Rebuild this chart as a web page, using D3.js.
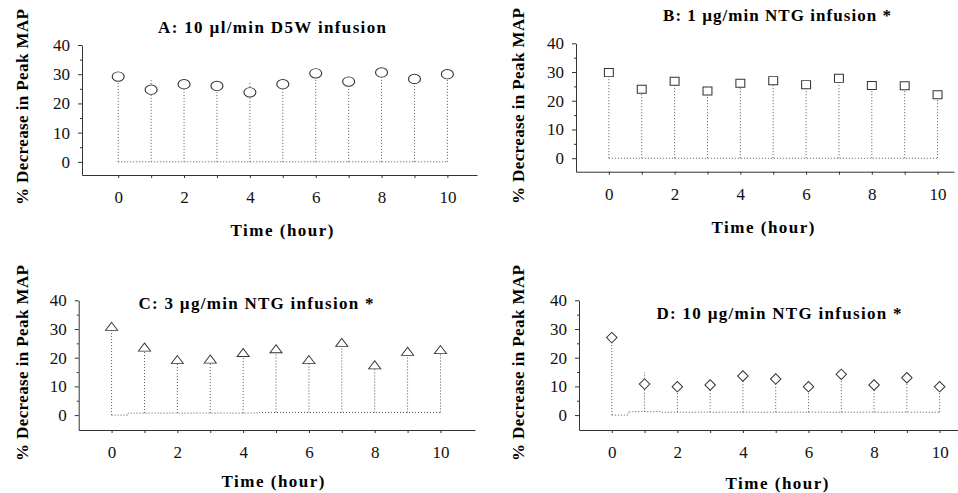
<!DOCTYPE html>
<html>
<head>
<meta charset="utf-8">
<script src="https://cdn.jsdelivr.net/npm/d3@7"></script>
<style>
  body { margin: 0; background: #fff; }
  svg { display: block; }
  .dot { fill: none; stroke: #555; stroke-width: 1; stroke-dasharray: 1,2; }
  .mark { fill: #fff; stroke: #333; stroke-width: 1; }
</style>
</head>
<body>
<div id="chart"></div>
<script>
// hours 0..10, values (% decrease in peak MAP)
const hours = d3.range(0, 11);
const yTicks = [0, 10, 20, 30, 40];
const yMinorTicks = [5, 15, 25, 35];

const valuesA = [29.2, 24.7, 26.6, 26.0, 23.8, 26.6, 30.3, 27.5, 30.6, 28.4, 30.0];
const valuesB = [29.8, 24.0, 26.8, 23.4, 26.1, 27.0, 25.6, 27.8, 25.3, 25.2, 22.1];
const valuesC = [30.8, 23.6, 19.2, 19.4, 21.7, 23.0, 19.2, 25.2, 17.4, 22.1, 22.7];
const valuesD = [27.0, 10.8, 9.9, 10.5, 13.6, 12.6, 9.9, 14.2, 10.5, 13.0, 9.9];

// top of the dotted drop lines (some run above the marker)
const stemTopA = [29.2, 28.0, 26.6, 27.5, 27.5, 26.6, 30.3, 27.5, 30.6, 28.4, 30.0];
const stemTopB = valuesB;
const stemTopC = valuesC;
const stemTopD = [27.0, 15.0, 9.9, 10.5, 13.6, 12.6, 9.9, 14.2, 10.5, 13.0, 9.9];

// level of the dotted base line under each point
const floorA = [0, 0, 0, 0, 0, 0, 0, 0, 0, 0, 0];
const floorB = [0, 0, 0, 0, 0, 0, 0, 0, 0, 0, 0];
const floorC = [0, 0.7, 0.7, 0.7, 0.7, 0.9, 0.9, 0.9, 0.9, 0.9, 0.9];
const floorD = [0, 1.2, 1.0, 1.0, 1.0, 1.0, 1.0, 1.0, 1.0, 1.0, 1.0];

const titles = [
    "A: 10 \u00b5l/min D5W infusion",
    "B: 1 \u00b5g/min NTG infusion *",
    "C: 3 \u00b5g/min NTG infusion *",
    "D: 10 \u00b5g/min NTG infusion *"
];
const xLabel = "Time (hour)";
const yLabel = "% Decrease in Peak MAP";

const W = 958, H = 493;
const FONT = "'Liberation Serif', 'Times New Roman', serif";

const svg = d3.select("#chart")
    .append("svg")
    .attr("width", W)
    .attr("height", H);

const panels = [
    {
        values: valuesA, stemTop: stemTopA, floor: floorA, title: titles[0], symbol: "circle",
        left: 82, right: 477, top: 45, bottom: 175, xDomain: [-1.1, 10.9], yDomain: [-4.5, 40],
        titleX: 272, titleY: 27, titleLen: 228,
        xlabX: 282, xlabY: 230, ylabX: 22, ylabY: 107
    },
    {
        values: valuesB, stemTop: stemTopB, floor: floorB, title: titles[1], symbol: "square",
        left: 576, right: 954, top: 43.3, bottom: 171.7, xDomain: [-1, 10.5], yDomain: [-4.7, 40],
        titleX: 777, titleY: 15, titleLen: 228,
        xlabX: 763, xlabY: 227, ylabX: 518, ylabY: 106
    },
    {
        values: valuesC, stemTop: stemTopC, floor: floorC, title: titles[2], symbol: "triangle",
        left: 78.7, right: 475, top: 300.3, bottom: 430, xDomain: [-1, 11.05], yDomain: [-5.2, 40],
        titleX: 256, titleY: 303, titleLen: 235,
        xlabX: 273, xlabY: 481, ylabX: 22, ylabY: 363
    },
    {
        values: valuesD, stemTop: stemTopD, floor: floorD, title: titles[3], symbol: "diamond",
        left: 579, right: 958, top: 300.3, bottom: 430, xDomain: [-1, 10.56], yDomain: [-5.2, 40],
        titleX: 779, titleY: 313, titleLen: 245,
        xlabX: 777, xlabY: 483, ylabX: 518, ylabY: 363
    }
];

function markPath(kind) {
    if (kind === "circle") return d3.symbol(d3.symbolCircle, 85)();
    if (kind === "square") return d3.symbol(d3.symbolSquare, 72)();
    if (kind === "triangle") return d3.symbol(d3.symbolTriangle, 58)();
    return d3.symbol(d3.symbolSquare, 55)();
}

function markTransform(kind, px, py) {
    if (kind === "circle") return "translate(" + px + "," + py + ") scale(1.15,0.9)";
    if (kind === "square") return "translate(" + px + "," + py + ") scale(1.05,0.95)";
    if (kind === "triangle") return "translate(" + px + "," + (py + 1) + ") scale(1.05,0.8)";
    return "translate(" + px + "," + py + ") rotate(45)";
}

function drawPanel(p) {
    const x = d3.scaleLinear().domain(p.xDomain).range([p.left, p.right]);
    const y = d3.scaleLinear().domain(p.yDomain).range([p.bottom, p.top]);

    const g = svg.append("g");

    // base dotted line
    const floorLine = d3.line()
        .x((d, i) => x(hours[i]))
        .y(d => y(d))
        .curve(d3.curveStep);

    g.append("path")
        .attr("class", "dot")
        .attr("d", floorLine(p.floor));

    // drop lines
    g.selectAll(".stem")
        .data(hours)
        .enter()
        .append("line")
        .attr("class", "dot stem")
        .attr("x1", d => x(d))
        .attr("x2", d => x(d))
        .attr("y1", (d, i) => y(p.floor[i]))
        .attr("y2", (d, i) => y(p.stemTop[i]));

    // x axis
    const xAxis = g.append("g")
        .attr("transform", "translate(0," + p.bottom + ")")
        .call(d3.axisBottom(x)
            .tickValues(hours)
            .tickSize(3)
            .tickSizeOuter(0)
            .tickPadding(13)
            .tickFormat(d => d % 2 === 0 ? d : ""));

    // y axis
    const yAxis = g.append("g")
        .attr("transform", "translate(" + p.left + ",0)")
        .call(d3.axisLeft(y)
            .tickValues(yTicks)
            .tickSize(4)
            .tickSizeOuter(0)
            .tickPadding(8));

    g.append("g")
        .attr("transform", "translate(" + p.left + ",0)")
        .call(d3.axisLeft(y)
            .tickValues(yMinorTicks)
            .tickSize(2)
            .tickFormat(""))
        .select(".domain").remove();

    g.selectAll(".domain, .tick line")
        .attr("stroke", "#333");

    [xAxis, yAxis].forEach(a => {
        a.attr("font-family", FONT)
            .attr("font-size", 17);
        a.selectAll("text").attr("fill", "#111");
    });

    // markers
    g.selectAll(".mark")
        .data(p.values)
        .enter()
        .append("path")
        .attr("class", "mark")
        .attr("d", markPath(p.symbol))
        .attr("transform", (d, i) => markTransform(p.symbol, x(hours[i]), y(d)));

    // title
    g.append("text")
        .attr("x", p.titleX)
        .attr("y", p.titleY)
        .attr("dy", "0.35em")
        .attr("text-anchor", "middle")
        .attr("font-family", FONT)
        .attr("font-weight", "bold")
        .attr("font-size", 17)
        .attr("textLength", p.titleLen)
        .attr("lengthAdjust", "spacing")
        .text(p.title);

    // x label
    g.append("text")
        .attr("x", p.xlabX)
        .attr("y", p.xlabY)
        .attr("dy", "0.35em")
        .attr("text-anchor", "middle")
        .attr("font-family", FONT)
        .attr("font-weight", "bold")
        .attr("font-size", 17)
        .attr("textLength", 103)
        .attr("lengthAdjust", "spacing")
        .text(xLabel);

    // y label
    g.append("text")
        .attr("transform", "translate(" + p.ylabX + "," + p.ylabY + ") rotate(-90)")
        .attr("dy", "0.35em")
        .attr("text-anchor", "middle")
        .attr("font-family", FONT)
        .attr("font-weight", "bold")
        .attr("font-size", 17)
        .attr("textLength", 196)
        .attr("lengthAdjust", "spacing")
        .text(yLabel);
}

panels.forEach(drawPanel);
</script>
</body>
</html>
